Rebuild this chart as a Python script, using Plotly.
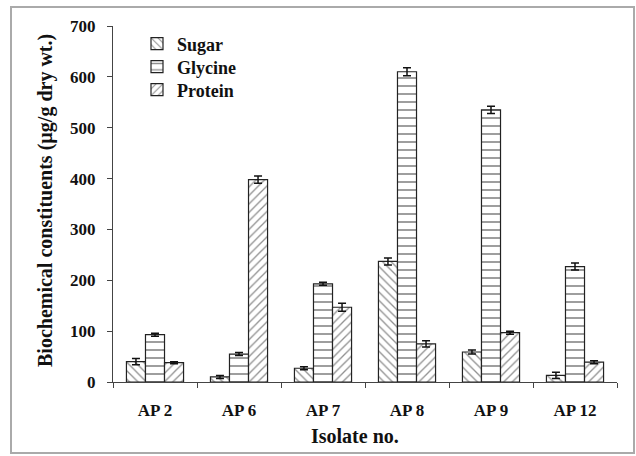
import plotly.graph_objects as go

# Isolates and measured biochemical constituents (µg/g dry wt.)
isolates = ["AP 2", "AP 6", "AP 7", "AP 8", "AP 9", "AP 12"]
sugar = [40, 10, 27, 237, 59, 13]
sugar_err = [6, 3, 3, 7, 4, 6]
glycine = [93, 55, 193, 610, 535, 227]
glycine_err = [3, 3, 3, 8, 7, 7]
protein = [38, 398, 147, 75, 97, 39]
protein_err = [2, 7, 8, 6, 3, 3]

serif = "Liberation Serif"

# Figure size and plot-area margins in pixels
W, H = 636, 456
L, R, T, B = 113, 19, 26, 74
pw, ph = W - L - R, H - T - B


def px_x(x):
    return (x - L) / pw


def px_y(y):
    return (H - B - y) / ph


def bar(name, values, errors, shape, size, legend):
    return go.Bar(
        name=name,
        legend=legend,
        x=isolates,
        y=values,
        marker=dict(
            color="white",
            line=dict(color="#222222", width=1.2),
            pattern=dict(shape=shape, fgcolor="#222222", bgcolor="white",
                         size=size, solidity=0.22),
        ),
        error_y=dict(type="data", array=errors, visible=True,
                     color="#111111", thickness=1.5, width=4),
    )


fig = go.Figure([
    bar("Sugar", sugar, sugar_err, "\\", 6, "legend"),
    bar("Glycine", glycine, glycine_err, "-", 8, "legend2"),
    bar("Protein", protein, protein_err, "/", 6, "legend3"),
])


def legend_row(y_px):
    # one legend box per series, stacked as a tight column
    return dict(
        x=px_x(137), y=px_y(y_px), xanchor="left", yanchor="middle",
        bgcolor="rgba(0,0,0,0)", borderwidth=0,
        font=dict(family=serif, size=18, weight="bold", color="#111111"),
        itemwidth=30,
    )


fig.update_layout(
    width=W, height=H,
    margin=dict(l=L, r=R, t=T, b=B, pad=0),
    paper_bgcolor="white", plot_bgcolor="white",
    barmode="group", bargap=0.32, bargroupgap=0,
    font=dict(family=serif, color="#111111"),
    showlegend=True,
    legend=legend_row(44),
    legend2=legend_row(67),
    legend3=legend_row(90),
    xaxis=dict(
        showline=True, linecolor="#444444", linewidth=1,
        ticks="outside", tickson="boundaries", ticklen=5,
        tickcolor="#444444", tickwidth=1,
        tickfont=dict(family=serif, size=17, weight="bold", color="#111111"),
        ticklabelstandoff=13,
        showgrid=False, zeroline=False,
    ),
    yaxis=dict(
        range=[0, 700], tickvals=[0, 100, 200, 300, 400, 500, 600, 700],
        showline=True, linecolor="#444444", linewidth=1,
        ticks="outside", ticklen=5, tickcolor="#444444", tickwidth=1,
        tickfont=dict(family=serif, size=17, weight="bold", color="#111111"),
        ticklabelstandoff=8,
        showgrid=False, zeroline=False,
    ),
    annotations=[
        dict(text="Isolate no.", xref="paper", yref="paper",
             x=px_x(355), y=px_y(436), xanchor="center", yanchor="middle",
             showarrow=False,
             font=dict(family=serif, size=20, weight="bold", color="#111111")),
        dict(text="Biochemical constituents (µg/g dry wt.)",
             xref="paper", yref="paper", textangle=-90,
             x=px_x(45), y=px_y(201), xanchor="center", yanchor="middle",
             showarrow=False,
             font=dict(family=serif, size=20, weight="bold", color="#111111")),
    ],
    shapes=[
        dict(type="rect", xref="paper", yref="paper",
             x0=px_x(11), x1=px_x(634), y0=px_y(453), y1=px_y(7),
             line=dict(color="#aaaaaa", width=2), fillcolor="rgba(0,0,0,0)",
             layer="below"),
    ],
)

fig.write_html("out.html")
